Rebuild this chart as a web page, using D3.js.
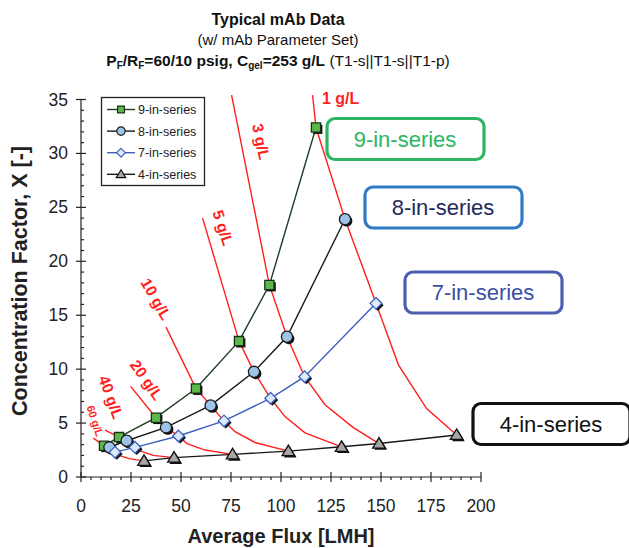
<!DOCTYPE html>
<html>
<head>
<meta charset="utf-8">
<script src="https://cdn.jsdelivr.net/npm/d3@7"></script>
<style>
  body { margin: 0; background: #fff; }
  svg { display: block; font-family: "Liberation Sans", Arial, sans-serif; }
</style>
</head>
<body>
<svg id="chart" width="629" height="548"></svg>
<script>
// series, index 0 = 60 g/L ... index 6 = 1 g/L
const concLabels = ["60 g/L", "40 g/L", "20 g/L", "10 g/L", "5 g/L", "3 g/L", "1 g/L"];

const flux4 = [31.5, 46.5, 75.8, 103.7, 130.3, 149, 187.8];
const cf4   = [1.5, 1.8, 2.1, 2.4, 2.8, 3.1, 3.9];
// 5- and 6-in-series: no markers, only the bends of the red lines
const flux5 = [24, 36, 62, 87, 112, 136, 172.8];
const cf5   = [1.7, 2.0, 2.5, 3.2, 4.1, 4.6, 6.35];
const flux6 = [19, 30, 53, 77, 102, 122, 158.7];
const cf6   = [2.0, 2.4, 3.1, 4.2, 5.6, 6.7, 10.4];
const flux7 = [17, 27, 48.7, 71.5, 94.8, 111.8, 147.5];
const cf7   = [2.3, 2.75, 3.8, 5.2, 7.3, 9.3, 16.1];
const flux8 = [14.2, 22.8, 42.5, 64.8, 86.5, 103, 132];
const cf8   = [2.75, 3.36, 4.6, 6.64, 9.75, 13.0, 23.9];
const flux9 = [11.5, 19, 37.5, 57.5, 79, 94.2, 117.5];
const cf9   = [2.9, 3.7, 5.5, 8.2, 12.6, 17.8, 32.4];
// where each red line ends above the 9-in-series point
const fluxTip = [6.2, 12, 24.8, 42.5, 60.8, 75.3, 115.8];
const cfTip   = [3.6, 4.35, 8.4, 13.9, 24.0, 35.4, 35.4];

const xTicks = [0, 25, 50, 75, 100, 125, 150, 175, 200];
const yTicks = [0, 5, 10, 15, 20, 25, 30, 35];

const svg = d3.select("#chart");
const x = d3.scaleLinear().domain([0, 200]).range([81, 481]);
const y = d3.scaleLinear().domain([0, 35]).range([477, 99.5]);

const RED = "#ff1f1f";

// titles
const title = svg.append("g").attr("text-anchor", "middle").attr("fill", "#111");
title.append("text").attr("x", 278).attr("y", 25).attr("font-size", 16).attr("font-weight", "bold").text("Typical mAb Data");
title.append("text").attr("x", 278).attr("y", 45).attr("font-size", 15).text("(w/ mAb Parameter Set)");
const t3 = title.append("text").attr("x", 278).attr("y", 66).attr("font-size", 15.5);
t3.append("tspan").attr("font-weight", "bold").text("P");
t3.append("tspan").attr("font-weight", "bold").attr("font-size", 10).attr("dy", 3).text("F");
t3.append("tspan").attr("font-weight", "bold").attr("dy", -3).text("/R");
t3.append("tspan").attr("font-weight", "bold").attr("font-size", 10).attr("dy", 3).text("F");
t3.append("tspan").attr("font-weight", "bold").attr("dy", -3).text("=60/10 psig, C");
t3.append("tspan").attr("font-weight", "bold").attr("font-size", 10).attr("dy", 3).text("gel");
t3.append("tspan").attr("font-weight", "bold").attr("dy", -3).text("=253 g/L");
t3.append("tspan").text(" (T1-s||T1-s||T1-p)");

// axes
const ax = svg.append("g").attr("stroke", "#222").attr("stroke-width", 1.2);
ax.append("line").attr("x1", x(0)).attr("x2", x(200)).attr("y1", y(0)).attr("y2", y(0));
ax.append("line").attr("x1", x(0)).attr("x2", x(0)).attr("y1", y(0)).attr("y2", y(35));
ax.selectAll(".xmaj").data(xTicks).join("line")
  .attr("x1", d => x(d)).attr("x2", d => x(d)).attr("y1", y(0) - 5).attr("y2", y(0) + 5);
ax.selectAll(".xmin").data(d3.range(0, 201, 5).filter(d => d % 25)).join("line")
  .attr("x1", d => x(d)).attr("x2", d => x(d)).attr("y1", y(0)).attr("y2", y(0) + 3);
ax.selectAll(".ymaj").data(yTicks).join("line")
  .attr("x1", x(0) - 5).attr("x2", x(0) + 5).attr("y1", d => y(d)).attr("y2", d => y(d));
ax.selectAll(".ymin").data(d3.range(0, 36).filter(d => d % 5)).join("line")
  .attr("x1", x(0)).attr("x2", x(0) + 3).attr("y1", d => y(d)).attr("y2", d => y(d));

svg.append("g").attr("font-size", 17.5).attr("fill", "#222").attr("text-anchor", "middle")
  .selectAll("text").data(xTicks).join("text")
  .attr("x", d => x(d)).attr("y", 512).text(d => d);
svg.append("g").attr("font-size", 17.5).attr("fill", "#222").attr("text-anchor", "end")
  .selectAll("text").data(yTicks).join("text")
  .attr("x", 68).attr("y", d => y(d) + 6).text(d => d);

svg.append("text").attr("x", 281).attr("y", 543).attr("text-anchor", "middle")
  .attr("font-size", 20).attr("font-weight", "bold").attr("fill", "#222").text("Average Flux [LMH]");
svg.append("text").attr("transform", "translate(27,281) rotate(-90)").attr("text-anchor", "middle")
  .attr("font-size", 21.5).attr("font-weight", "bold").attr("fill", "#222").text("Concentration Factor, X [-]");

// red iso-concentration lines
const line = d3.line().x(d => x(d[0])).y(d => y(d[1]));
const isoLines = concLabels.map((c, i) => [
  [flux4[i], cf4[i]], [flux5[i], cf5[i]], [flux6[i], cf6[i]], [flux7[i], cf7[i]],
  [flux8[i], cf8[i]], [flux9[i], cf9[i]], [fluxTip[i], cfTip[i]]
]);
svg.append("g").selectAll("path").data(isoLines).join("path")
  .attr("d", line).attr("fill", "none").attr("stroke", RED).attr("stroke-width", 1.4);

// series
const sq = r => `M${-r},${-r}H${r}V${r}H${-r}Z`;
const circ = r => `M${r},0A${r},${r} 0 1,1 ${-r},0A${r},${r} 0 1,1 ${r},0Z`;
const dia = r => `M0,${-r}L${r},0L0,${r}L${-r},0Z`;
const tri = r => `M0,${-r}L${r * 1.05},${r * 0.75}L${-r * 1.05},${r * 0.75}Z`;

const series = [
  { name: "9-in-series", fx: flux9, cf: cf9, line: "#1f3d22", fill: "#5cb84a", stroke: "#173317", shape: sq, r: 4.6 },
  { name: "8-in-series", fx: flux8, cf: cf8, line: "#1a1a1a", fill: "#9dc3e6", stroke: "#1a1a1a", shape: circ, r: 5.6 },
  { name: "7-in-series", fx: flux7, cf: cf7, line: "#3f5fbf", fill: "#dceaf8", stroke: "#3f5fbf", shape: dia, r: 5.8 },
  { name: "4-in-series", fx: flux4, cf: cf4, line: "#1a1a1a", fill: "#a6a6a6", stroke: "#111", shape: tri, r: 6 }
];

series.forEach(s => {
  const pts = s.fx.map((f, i) => [f, s.cf[i]]);
  svg.append("path").attr("d", line(pts)).attr("fill", "none").attr("stroke", s.line).attr("stroke-width", 1.4);
});
series.forEach(s => {
  const pts = s.fx.map((f, i) => [f, s.cf[i]]);
  const g = svg.append("g");
  g.selectAll(".sh").data(pts).join("path")
    .attr("transform", d => `translate(${x(d[0]) + 1.8},${y(d[1]) + 1.8})`)
    .attr("d", s.shape(s.r)).attr("fill", "#111");
  g.selectAll(".mk").data(pts).join("path")
    .attr("transform", d => `translate(${x(d[0])},${y(d[1])})`)
    .attr("d", s.shape(s.r)).attr("fill", s.fill).attr("stroke", s.stroke).attr("stroke-width", 1.3);
});

// iso-line labels
const labelPos = [
  { fx: 7, cf: 5.2, rot: 72, size: 11 },
  { fx: 15, cf: 7.4, rot: 70, size: 15.5 },
  { fx: 32.8, cf: 9.0, rot: 55, size: 15.5 },
  { fx: 37.5, cf: 16.5, rot: 60, size: 15.5 },
  { fx: 71, cf: 23.1, rot: 72, size: 15.5 },
  { fx: 90, cf: 31.1, rot: 78, size: 15.5 }
];
svg.append("g").attr("fill", RED).attr("font-weight", "bold").attr("text-anchor", "middle")
  .selectAll("text").data(labelPos).join("text")
  .attr("transform", d => `translate(${x(d.fx)},${y(d.cf)}) rotate(${d.rot})`)
  .attr("dy", "0.35em").attr("font-size", d => d.size).text((d, i) => concLabels[i]);
svg.append("text").attr("x", 322).attr("y", 104).attr("fill", RED).attr("font-weight", "bold")
  .attr("font-size", 16).text(concLabels[6]);

// legend
const lg = svg.append("g");
lg.append("rect").attr("x", 101.5).attr("y", 97.5).attr("width", 103).attr("height", 88)
  .attr("fill", "#fff").attr("stroke", "#222").attr("stroke-width", 1.3);
series.forEach((s, i) => {
  const ly = 109.5 + i * 21.6;
  lg.append("line").attr("x1", 107).attr("x2", 135).attr("y1", ly).attr("y2", ly)
    .attr("stroke", s.line).attr("stroke-width", 1.4);
  lg.append("path").attr("transform", `translate(121,${ly})`).attr("d", s.shape(s.r * 0.75))
    .attr("fill", s.fill).attr("stroke", s.stroke).attr("stroke-width", 1.2);
  lg.append("text").attr("x", 138).attr("y", ly + 4.5).attr("font-size", 12.5).attr("fill", "#222").text(s.name);
});

// call-out boxes
const boxes = [
  { text: "9-in-series", x: 327, y: 118.5, stroke: "#2db562", color: "#2db562" },
  { text: "8-in-series", x: 365, y: 187, stroke: "#2f7bc4", color: "#1f2a5c" },
  { text: "7-in-series", x: 405, y: 272, stroke: "#4b5fae", color: "#3b4fa3" },
  { text: "4-in-series", x: 473, y: 403.5, stroke: "#111", color: "#111" }
];
const bx = svg.append("g").selectAll("g").data(boxes).join("g");
bx.append("rect").attr("x", d => d.x).attr("y", d => d.y).attr("width", 157).attr("height", 41)
  .attr("rx", 8).attr("fill", "#fff").attr("stroke", d => d.stroke).attr("stroke-width", 3.2);
bx.append("text").attr("x", d => d.x + 78).attr("y", d => d.y + 28).attr("text-anchor", "middle")
  .attr("font-size", 22).attr("fill", d => d.color).text(d => d.text);
</script>
</body>
</html>
